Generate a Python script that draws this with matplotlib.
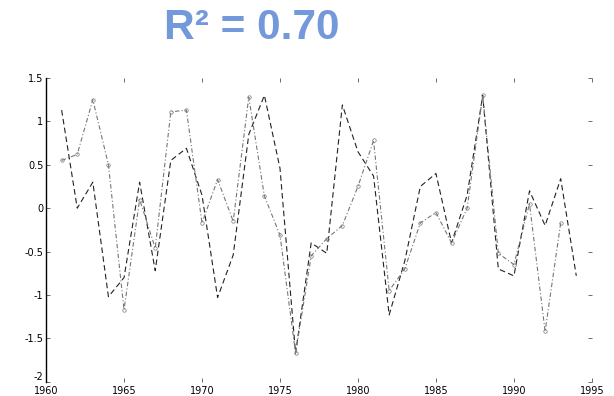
import numpy as np
import matplotlib
matplotlib.use("Agg")
import matplotlib.pyplot as plt

plt.rcParams["axes.unicode_minus"] = False

years_a = np.arange(1961, 1995)
series_a = [1.13, 0.00, 0.30, -1.02, -0.80, 0.30, -0.72, 0.55, 0.69, 0.15,
            -1.03, -0.54, 0.85, 1.30, 0.46, -1.67, -0.40, -0.52, 1.19, 0.65,
            0.37, -1.23, -0.61, 0.25, 0.40, -0.40, 0.15, 1.30, -0.70, -0.78,
            0.20, -0.20, 0.34, -0.78]

years_b = np.arange(1961, 1994)
series_b = [0.55, 0.62, 1.25, 0.50, -1.17, 0.10, -0.46, 1.11, 1.13, -0.17,
            0.33, -0.15, 1.28, 0.14, -0.31, -1.67, -0.55, -0.35, -0.20, 0.25,
            0.78, -0.95, -0.70, -0.17, -0.05, -0.40, 0.00, 1.30, -0.52, -0.65,
            0.05, -1.42, -0.17]

x_ticks = np.arange(1960, 1996, 5)
y_ticks = [-2, -1.5, -1, -0.5, 0, 0.5, 1, 1.5]
y_labels = ["-2", "-1.5", "-1", "-0.5", "0", "0.5", "1", "1.5"]

fig = plt.figure(figsize=(6.14, 3.96), dpi=100)
ax = fig.add_axes([0.075, 0.036, 0.889, 0.767])

ax.plot(years_a, series_a, color="#222222", linestyle=(0, (5, 3)), linewidth=0.8)
ax.plot(years_b, series_b, color="#777777", linestyle=(0, (4, 2, 1, 2)), linewidth=0.8,
        marker="o", markersize=2.5, fillstyle="none", markeredgewidth=0.5)

ax.set_xlim(1960, 1995)
ax.set_ylim(-2, 1.5)
ax.set_xticks(x_ticks)
ax.set_yticks(y_ticks)
ax.set_yticklabels(y_labels)
# lift the bottom y label a little so it clears "1960"
ax.get_yticklabels()[0].set_va("bottom")

for side in ["top", "right", "bottom"]:
    ax.spines[side].set_visible(False)
ax.spines["left"].set_linewidth(1.0)
ax.tick_params(direction="in", length=3, width=0.6, color="#555555",
               labelsize=7, top=True, right=True, pad=2)
ax.tick_params(axis="x", pad=3)

fig.text(0.41, 0.93, "R² = 0.70", ha="center", va="center",
         fontsize=30.5, fontweight="bold", color="#7399DA",
         family="Liberation Sans")

fig.savefig("out.png", dpi=100)
